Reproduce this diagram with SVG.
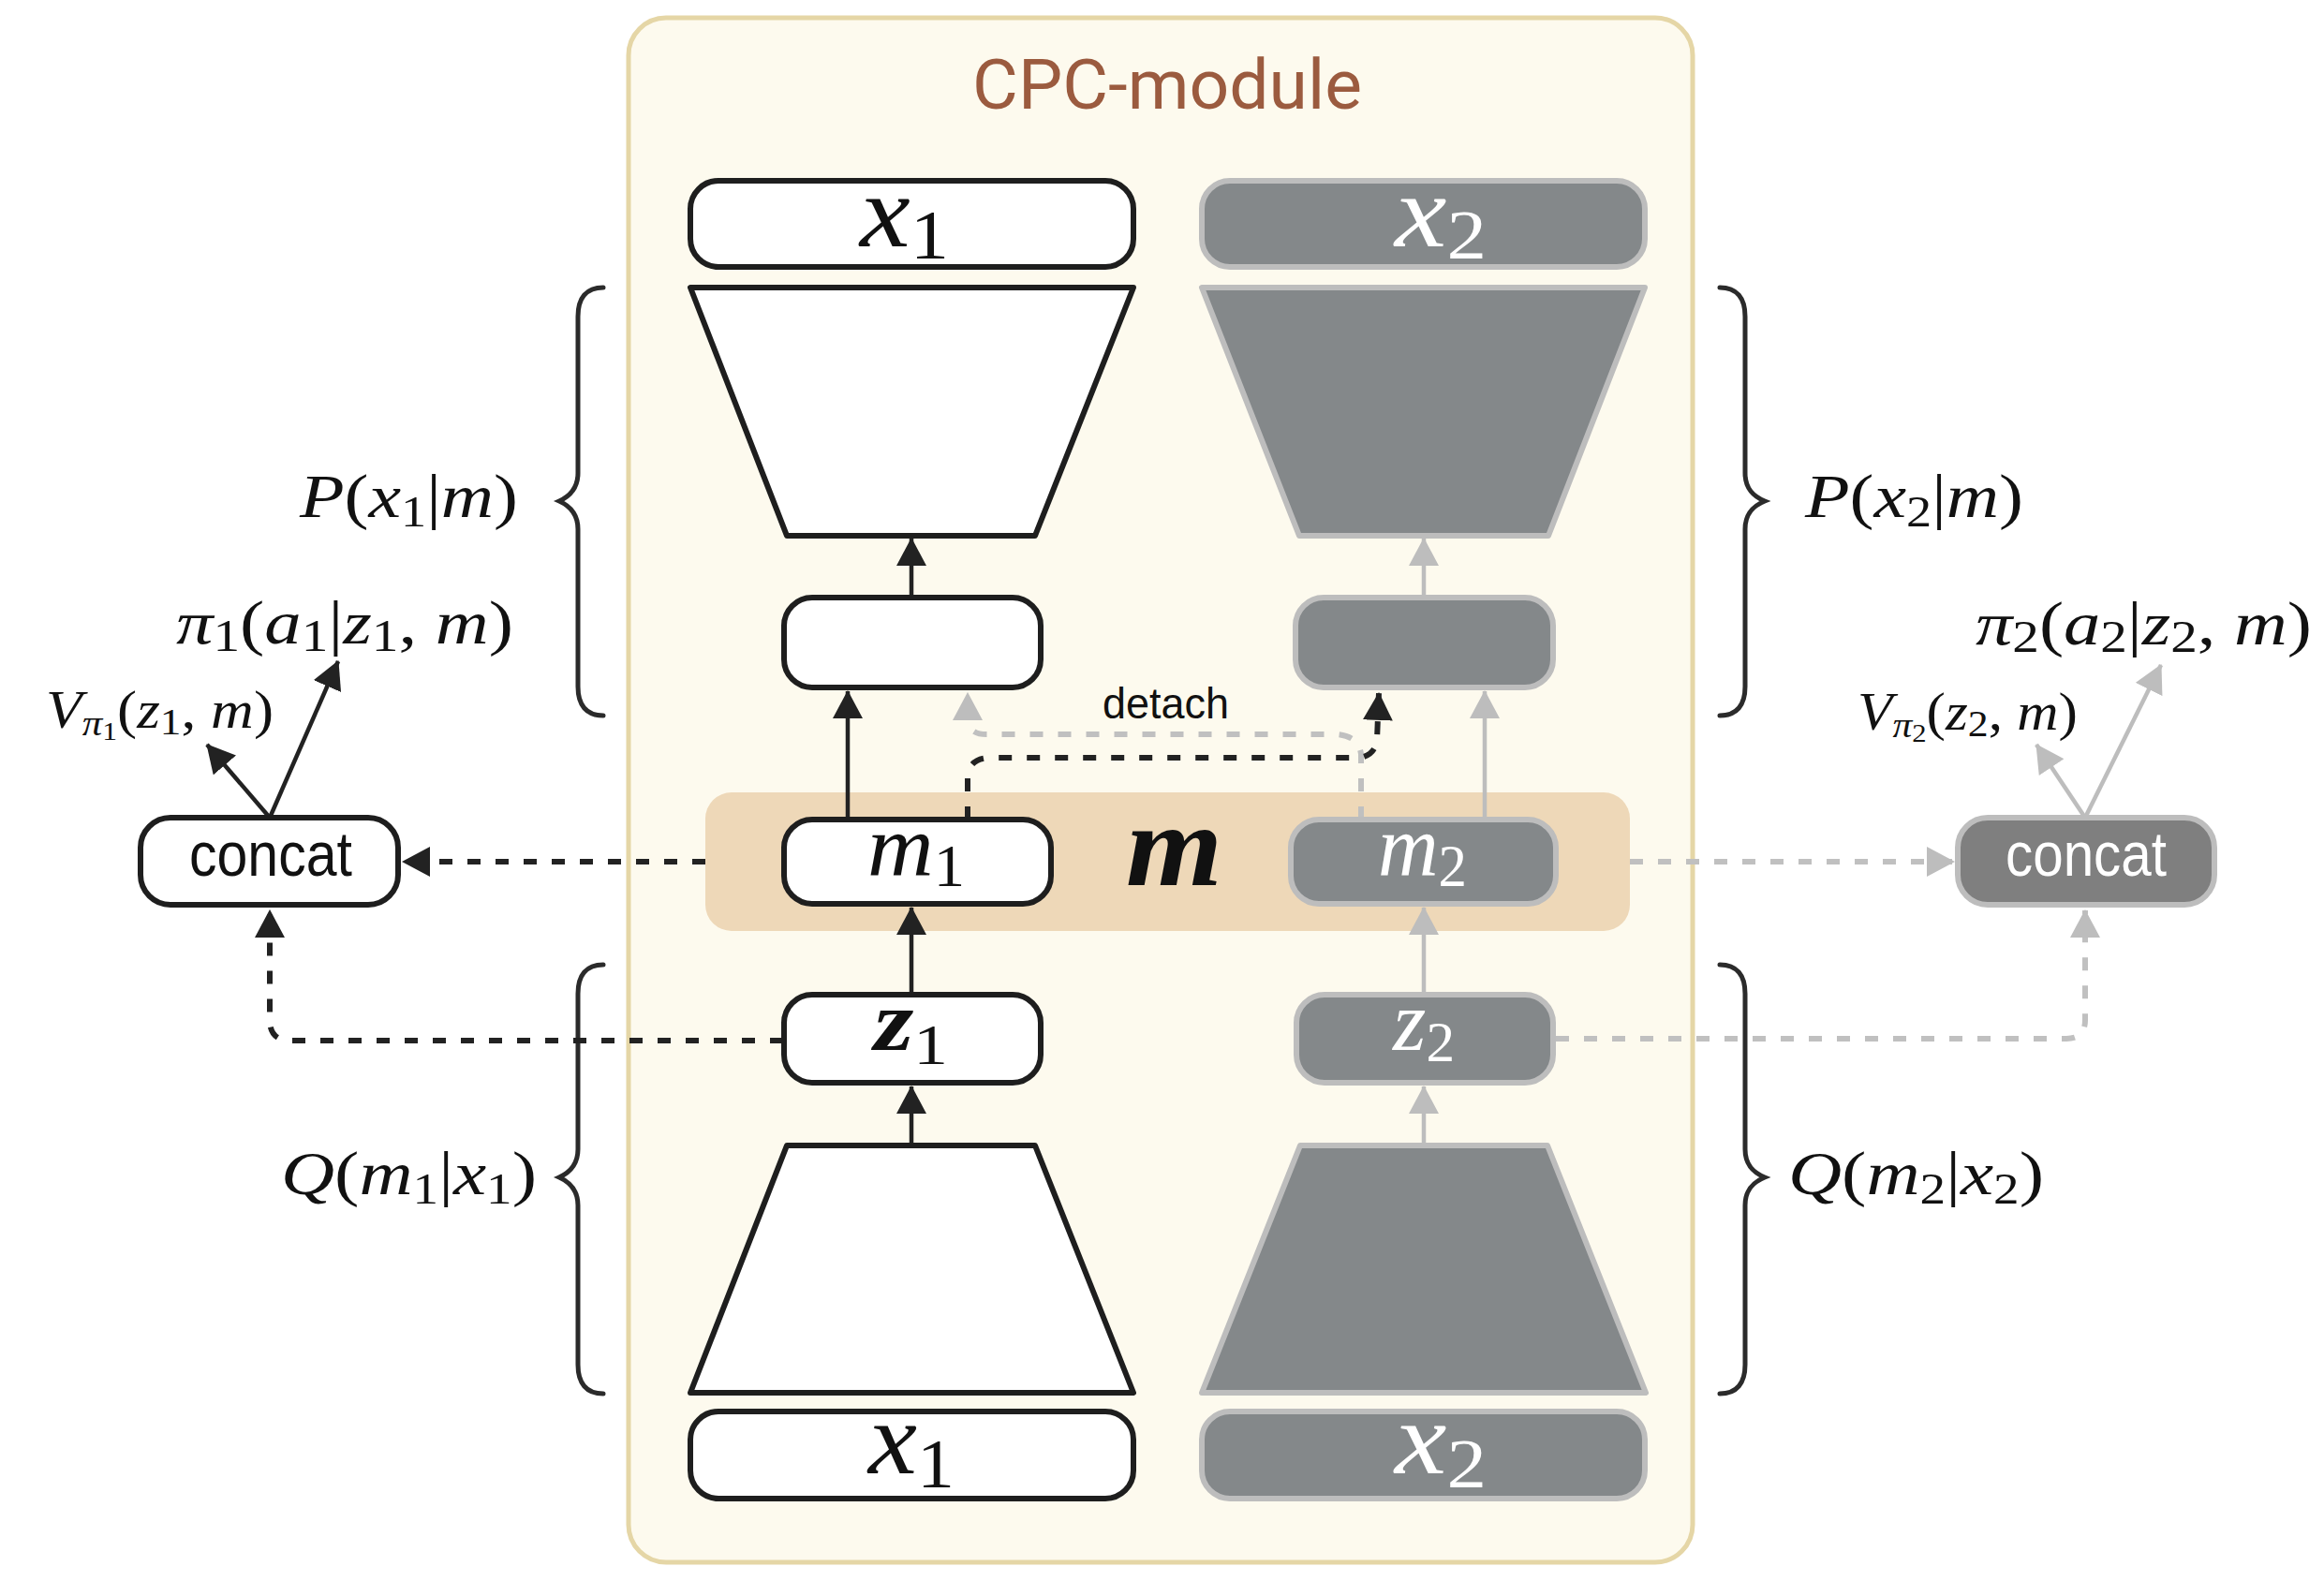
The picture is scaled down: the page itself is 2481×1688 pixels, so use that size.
<svg xmlns="http://www.w3.org/2000/svg" width="2481" height="1688" viewBox="0 0 2481 1688">
<style>
.wbox{fill:#ffffff;stroke:#1e1e1e;stroke-width:6;stroke-linejoin:round}
.gbox{fill:#84888a;stroke:#bdbdbd;stroke-width:6;stroke-linejoin:round}
.brace{fill:none;stroke:#2b2b2b;stroke-width:5;stroke-linecap:round}
.math{font-family:"Liberation Serif","DejaVu Serif",serif;fill:#111111}
.it{font-style:italic}
.bi{font-style:italic;font-weight:bold}
.wt{fill:#ffffff}
.sans{font-family:"Liberation Sans",Arial,sans-serif}
.k{fill:none;stroke:#222222;stroke-width:4.5}
.kd{fill:none;stroke:#222222;stroke-width:6;stroke-dasharray:14 16}
.g{fill:none;stroke:#bdbdbd;stroke-width:4.5}
.gd{fill:none;stroke:#c0c0c0;stroke-width:6;stroke-dasharray:14 16}
</style>
<defs>
<marker id="ak" viewBox="0 0 30 32" refX="29" refY="16" markerWidth="30" markerHeight="32" markerUnits="userSpaceOnUse" orient="auto">
<path d="M0,0 L30,16 L0,32 z" fill="#222222"/>
</marker>
<marker id="ag" viewBox="0 0 30 32" refX="29" refY="16" markerWidth="30" markerHeight="32" markerUnits="userSpaceOnUse" orient="auto">
<path d="M0,0 L30,16 L0,32 z" fill="#bdbdbd"/>
</marker>
</defs>
<rect width="2481" height="1688" fill="#ffffff"/>

<g id="cpc-module">
<rect x="671" y="19" width="1136" height="1649" rx="40" fill="#fdfaee" stroke="#e5d6a6" stroke-width="5"/>
<text x="1246" y="116" text-anchor="middle" font-family="Roboto,'Liberation Sans',sans-serif" font-size="75" fill="#9b5b3f">CPC-module</text>
</g>
<g id="m-band">
<rect x="753" y="846" width="987" height="148" rx="28" fill="#eed8b8"/>
<text class="math bi" x="1202" y="945" font-size="125" textLength="103" lengthAdjust="spacingAndGlyphs">m</text>
</g>

<g id="braces">
<path class="brace" d="M644,307 C626,307 617,318 617,338 L617,505 C617,522 608,530 597,535 C608,540 617,548 617,565 L617,733 C617,753 626,764 644,764"/>
<path class="brace" d="M644,1030 C626,1030 617,1041 617,1061 L617,1227 C617,1244 608,1252 597,1257 C608,1262 617,1270 617,1287 L617,1457 C617,1477 626,1488 644,1488"/>
<path class="brace" d="M1836,307 C1854,307 1863,318 1863,338 L1863,505 C1863,522 1872,530 1884,535 C1872,540 1863,548 1863,565 L1863,733 C1863,753 1854,764 1836,764"/>
<path class="brace" d="M1836,1030 C1854,1030 1863,1041 1863,1061 L1863,1227 C1863,1244 1872,1252 1884,1257 C1872,1262 1863,1270 1863,1287 L1863,1457 C1863,1477 1854,1488 1836,1488"/>
</g>

<g id="connectors">
<path class="gd" d="M1453,875 L1453,805 Q1450,786 1428,784 L1053,784 Q1033,784 1033,766 L1033,740" marker-end="url(#ag)"/>
<path class="g" d="M1520,1223 L1520,1160" marker-end="url(#ag)"/>
<path class="g" d="M1520,1062 L1520,969" marker-end="url(#ag)"/>
<path class="g" d="M1585,872 L1585,738" marker-end="url(#ag)"/>
<path class="g" d="M1520,635 L1520,575" marker-end="url(#ag)"/>
<path class="gd" d="M1740,920 L2086,920" marker-end="url(#ag)"/>
<path class="gd" d="M1661,1109 L2206,1109 Q2226,1109 2226,1089 L2226,972" marker-end="url(#ag)"/>
<path class="g" d="M2226,873 L2174,795" marker-end="url(#ag)"/>
<path class="g" d="M2226,873 L2307,710" marker-end="url(#ag)"/>

<path class="k" d="M973,1223 L973,1160" marker-end="url(#ak)"/>
<path class="k" d="M973,1062 L973,969" marker-end="url(#ak)"/>
<path class="k" d="M905,872 L905,738" marker-end="url(#ak)"/>
<path class="k" d="M973,635 L973,575" marker-end="url(#ak)"/>
<path class="kd" d="M1033,875 L1033,830 Q1034,810 1056,809 L1452,809 Q1468,806 1470,790 L1472,740" marker-end="url(#ak)"/>
<path class="kd" d="M753,920 L430,920" marker-end="url(#ak)"/>
<path class="kd" d="M836,1111 L310,1111 Q288,1111 288,1089 L288,972" marker-end="url(#ak)"/>
<path class="k" d="M288,873 L221,795" marker-end="url(#ak)"/>
<path class="k" d="M288,873 L361,706" marker-end="url(#ak)"/>
<text class="sans" x="1177" y="767" font-size="47" fill="#111111" textLength="135" lengthAdjust="spacingAndGlyphs">detach</text>
</g>

<g id="x1-top">
<rect class="wbox" x="737" y="193" width="473" height="92" rx="30"/>
<text class="math" x="918" y="263" font-size="110" textLength="95" lengthAdjust="spacingAndGlyphs"><tspan class="it">x</tspan><tspan font-size="75" dy="13">1</tspan></text>
</g>
<g id="decoder-1">
<polygon class="wbox" points="737,307 1210,307 1105,572 840,572"/>
</g>
<g id="hidden-1">
<rect class="wbox" x="837" y="638" width="274" height="96" rx="30"/>
</g>
<g id="m1">
<rect class="wbox" x="837" y="875" width="285" height="90" rx="30"/>
<text class="math" x="926" y="935" font-size="94" textLength="104" lengthAdjust="spacingAndGlyphs"><tspan class="it">m</tspan><tspan font-size="64" dy="11">1</tspan></text>
</g>
<g id="z1">
<rect class="wbox" x="837" y="1062" width="274" height="94" rx="30"/>
<text class="math" x="933" y="1121" font-size="92" textLength="79" lengthAdjust="spacingAndGlyphs"><tspan class="bi">z</tspan><tspan font-size="62" dy="15">1</tspan></text>
</g>
<g id="encoder-1">
<polygon class="wbox" points="840,1223 1105,1223 1210,1487 737,1487"/>
</g>
<g id="x1-bottom">
<rect class="wbox" x="737" y="1507" width="473" height="93" rx="30"/>
<text class="math" x="927" y="1573" font-size="110" textLength="92" lengthAdjust="spacingAndGlyphs"><tspan class="it">x</tspan><tspan font-size="75" dy="15">1</tspan></text>
</g>

<g id="x2-top">
<rect class="gbox" x="1283" y="193" width="473" height="92" rx="30"/>
<text class="math wt" x="1489" y="263" font-size="110" textLength="98" lengthAdjust="spacingAndGlyphs"><tspan class="it">x</tspan><tspan font-size="75" dy="13">2</tspan></text>
</g>
<g id="decoder-2">
<polygon class="gbox" points="1283,307 1756,307 1653,572 1387,572"/>
</g>
<g id="hidden-2">
<rect class="gbox" x="1383" y="638" width="275" height="96" rx="30"/>
</g>
<g id="m2">
<rect class="gbox" x="1378" y="875" width="283" height="90" rx="30"/>
<text class="math wt" x="1471" y="935" font-size="94" textLength="95" lengthAdjust="spacingAndGlyphs"><tspan class="it">m</tspan><tspan font-size="64" dy="11">2</tspan></text>
</g>
<g id="z2">
<rect class="gbox" x="1384" y="1062" width="274" height="94" rx="30"/>
<text class="math wt" x="1487" y="1121" font-size="92" textLength="66" lengthAdjust="spacingAndGlyphs"><tspan class="it">z</tspan><tspan font-size="62" dy="12">2</tspan></text>
</g>
<g id="encoder-2">
<polygon class="gbox" points="1388,1223 1652,1223 1757,1487 1283,1487"/>
</g>
<g id="x2-bottom">
<rect class="gbox" x="1283" y="1507" width="473" height="93" rx="30"/>
<text class="math wt" x="1489" y="1573" font-size="110" textLength="98" lengthAdjust="spacingAndGlyphs"><tspan class="it">x</tspan><tspan font-size="75" dy="15">2</tspan></text>
</g>

<g id="concat-1">
<rect class="wbox" x="150" y="873" width="275" height="93" rx="32"/>
<text class="sans" x="202" y="935" font-size="66" fill="#111111" textLength="174" lengthAdjust="spacingAndGlyphs">concat</text>
</g>
<g id="concat-2">
<rect x="2090" y="873" width="274" height="93" rx="32" fill="#7f7f7f" stroke="#bdbdbd" stroke-width="6"/>
<text class="sans" x="2141" y="935" font-size="66" fill="#ffffff" textLength="172" lengthAdjust="spacingAndGlyphs">concat</text>
</g>

<g id="labels">
<text class="math" x="320" y="552" font-size="66" textLength="233" lengthAdjust="spacingAndGlyphs"><tspan class="it">P</tspan>(<tspan class="it">x</tspan><tspan font-size="46" dy="10">1</tspan><tspan dy="-10">|</tspan><tspan class="it">m</tspan>)</text>
<text class="math" x="188" y="687" font-size="66" textLength="360" lengthAdjust="spacingAndGlyphs"><tspan class="it">π</tspan><tspan font-size="48" dy="8">1</tspan><tspan dy="-8">(</tspan><tspan class="it">a</tspan><tspan font-size="48" dy="8">1</tspan><tspan dy="-8">|</tspan><tspan class="it">z</tspan><tspan font-size="48" dy="8">1</tspan><tspan dy="-8">, </tspan><tspan class="it">m</tspan>)</text>
<text class="math" x="49" y="777" font-size="56" textLength="243" lengthAdjust="spacingAndGlyphs"><tspan class="it">V</tspan><tspan class="it" font-size="38" dy="8">π</tspan><tspan font-size="28" dy="5">1</tspan><tspan dy="-13">(</tspan><tspan class="it">z</tspan><tspan font-size="40" dy="7">1</tspan><tspan dy="-7">, </tspan><tspan class="it">m</tspan>)</text>
<text class="math" x="300" y="1275" font-size="66" textLength="273" lengthAdjust="spacingAndGlyphs"><tspan class="it">Q</tspan>(<tspan class="it">m</tspan><tspan font-size="46" dy="10">1</tspan><tspan dy="-10">|</tspan><tspan class="it">x</tspan><tspan font-size="46" dy="10">1</tspan><tspan dy="-10">)</tspan></text>

<text class="math" x="1927" y="552" font-size="66" textLength="233" lengthAdjust="spacingAndGlyphs"><tspan class="it">P</tspan>(<tspan class="it">x</tspan><tspan font-size="46" dy="10">2</tspan><tspan dy="-10">|</tspan><tspan class="it">m</tspan>)</text>
<text class="math" x="2109" y="688" font-size="66" textLength="359" lengthAdjust="spacingAndGlyphs"><tspan class="it">π</tspan><tspan font-size="48" dy="8">2</tspan><tspan dy="-8">(</tspan><tspan class="it">a</tspan><tspan font-size="48" dy="8">2</tspan><tspan dy="-8">|</tspan><tspan class="it">z</tspan><tspan font-size="48" dy="8">2</tspan><tspan dy="-8">, </tspan><tspan class="it">m</tspan>)</text>
<text class="math" x="1983" y="779" font-size="56" textLength="235" lengthAdjust="spacingAndGlyphs"><tspan class="it">V</tspan><tspan class="it" font-size="38" dy="8">π</tspan><tspan font-size="28" dy="5">2</tspan><tspan dy="-13">(</tspan><tspan class="it">z</tspan><tspan font-size="40" dy="7">2</tspan><tspan dy="-7">, </tspan><tspan class="it">m</tspan>)</text>
<text class="math" x="1909" y="1275" font-size="66" textLength="273" lengthAdjust="spacingAndGlyphs"><tspan class="it">Q</tspan>(<tspan class="it">m</tspan><tspan font-size="46" dy="10">2</tspan><tspan dy="-10">|</tspan><tspan class="it">x</tspan><tspan font-size="46" dy="10">2</tspan><tspan dy="-10">)</tspan></text>
</g>
</svg>
